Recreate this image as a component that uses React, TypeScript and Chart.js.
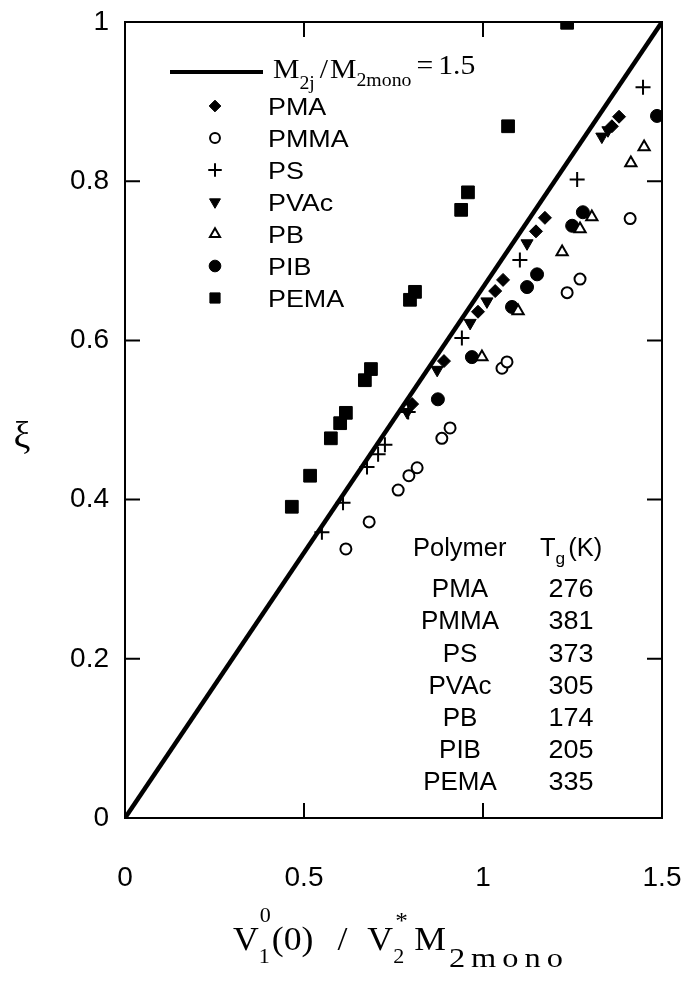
import React, { useEffect, useRef } from 'react';
import { Chart, registerables } from 'chart.js';
import { drawPoint } from 'chart.js/helpers';

Chart.register(...registerables);

// ---- data ----
const pmaX = [0.802, 0.891, 0.986, 1.034, 1.056, 1.148, 1.173, 1.36, 1.38];
const pmaY = [0.52, 0.574, 0.636, 0.662, 0.676, 0.737, 0.754, 0.869, 0.881];

const pmmaX = [0.617, 0.682, 0.763, 0.793, 0.816, 0.885, 0.908, 1.053, 1.067, 1.235, 1.271, 1.411];
const pmmaY = [0.338, 0.372, 0.412, 0.43, 0.44, 0.477, 0.49, 0.565, 0.573, 0.66, 0.677, 0.753];

const psX = [0.55, 0.609, 0.676, 0.707, 0.726, 0.791, 0.941, 1.103, 1.263, 1.447];
const psY = [0.359, 0.396, 0.441, 0.457, 0.469, 0.51, 0.603, 0.701, 0.802, 0.918];

const pvacX = [0.788, 0.872, 0.964, 1.011, 1.123, 1.332, 1.349];
const pvacY = [0.51, 0.563, 0.622, 0.649, 0.722, 0.856, 0.864];

const pbX = [0.997, 1.098, 1.221, 1.271, 1.304, 1.413, 1.45];
const pbY = [0.579, 0.637, 0.711, 0.74, 0.755, 0.823, 0.843];

const pibX = [0.874, 0.969, 1.081, 1.123, 1.151, 1.249, 1.279, 1.486];
const pibY = [0.526, 0.579, 0.642, 0.667, 0.683, 0.744, 0.761, 0.882];

const pemaX = [0.466, 0.517, 0.575, 0.601, 0.617, 0.67, 0.687, 0.796, 0.81, 0.939, 0.958, 1.07, 1.235];
const pemaY = [0.391, 0.43, 0.477, 0.496, 0.509, 0.55, 0.564, 0.651, 0.661, 0.764, 0.786, 0.869, 0.999];

const lineX = [0, 1.5];
const lineY = [0, 1];

const xTicks = [0, 0.5, 1, 1.5];
const yTicks = [0, 0.2, 0.4, 0.6, 0.8, 1];
const xTickLabels = ['0', '0.5', '1', '1.5'];
const yTickLabels = ['0', '0.2', '0.4', '0.6', '0.8', '1'];

const seriesNames = ['PMA', 'PMMA', 'PS', 'PVAc', 'PB', 'PIB', 'PEMA'];
const tableNames = ['PMA', 'PMMA', 'PS', 'PVAc', 'PB', 'PIB', 'PEMA'];
const tableTg = ['276', '381', '373', '305', '174', '205', '335'];

// ---- styles ----
const SANS = '"Liberation Sans", Arial, sans-serif';
const SERIF = '"Liberation Serif", "Times New Roman", serif';

const markerStyles: any[] = [
  { pointStyle: 'rectRot', radius: 6.5, rotation: 0, fill: '#000', borderWidth: 1 },
  { pointStyle: 'circle', radius: 5.5, rotation: 0, fill: '#fff', borderWidth: 2 },
  { pointStyle: 'cross', radius: 7.5, rotation: 0, fill: '#000', borderWidth: 2 },
  { pointStyle: 'triangle', radius: 7, rotation: 180, fill: '#000', borderWidth: 1 },
  { pointStyle: 'triangle', radius: 6.5, rotation: 0, fill: '#fff', borderWidth: 2 },
  { pointStyle: 'circle', radius: 6.5, rotation: 0, fill: '#000', borderWidth: 1 },
  { pointStyle: 'rect', radius: 9, rotation: 0, fill: '#000', borderWidth: 1 },
];

const seriesX = [pmaX, pmmaX, psX, pvacX, pbX, pibX, pemaX];
const seriesY = [pmaY, pmmaY, psY, pvacY, pbY, pibY, pemaY];

function run(ctx: CanvasRenderingContext2D, s: string, x: number, y: number, size: number, fam: string, sx = 1, spacing = '0px') {
  ctx.save();
  ctx.font = `${size}px ${fam}`;
  (ctx as any).letterSpacing = spacing;
  ctx.textAlign = 'left';
  ctx.textBaseline = 'alphabetic';
  const w = ctx.measureText(s).width;
  ctx.translate(x, y);
  ctx.scale(sx, 1);
  ctx.fillText(s, 0, 0);
  ctx.restore();
  return x + w * sx;
}

function centered(ctx: CanvasRenderingContext2D, s: string, cx: number, y: number, size: number, fam: string, sx = 1) {
  ctx.save();
  ctx.font = `${size}px ${fam}`;
  ctx.textAlign = 'center';
  ctx.textBaseline = 'alphabetic';
  ctx.translate(cx, y);
  ctx.scale(sx, 1);
  ctx.fillText(s, 0, 0);
  ctx.restore();
}

const decorPlugin = {
  id: 'decor',
  afterDraw(chart: any) {
    const { ctx, chartArea: a, scales } = chart;
    const xs = scales.x;
    const ys = scales.y;
    ctx.save();
    ctx.fillStyle = '#000';
    ctx.strokeStyle = '#000';
    // frame
    ctx.lineWidth = 2;
    ctx.strokeRect(a.left, a.top, a.right - a.left, a.bottom - a.top);
    // inward ticks on all sides
    const T = 15;
    ctx.beginPath();
    xTicks.forEach((v) => {
      if (v <= xs.min || v >= xs.max) return;
      const px = xs.getPixelForValue(v);
      ctx.moveTo(px, a.bottom); ctx.lineTo(px, a.bottom - T);
      ctx.moveTo(px, a.top); ctx.lineTo(px, a.top + T);
    });
    yTicks.forEach((v) => {
      if (v <= ys.min || v >= ys.max) return;
      const py = ys.getPixelForValue(v);
      ctx.moveTo(a.left, py); ctx.lineTo(a.left + T, py);
      ctx.moveTo(a.right, py); ctx.lineTo(a.right - T, py);
    });
    ctx.stroke();

    // legend: line sample + rich text
    ctx.lineWidth = 4;
    ctx.beginPath();
    ctx.moveTo(170, 72); ctx.lineTo(263, 72);
    ctx.stroke();
    let x = run(ctx, 'M', 273, 78, 27, SERIF, 1.1);
    x = run(ctx, '2j', x, 89, 18, SERIF, 1.1);
    x = run(ctx, '/', x + 5, 78, 27, SERIF, 1.1);
    x = run(ctx, 'M', x + 2, 78, 27, SERIF, 1.1);
    x = run(ctx, '2mono', x, 86, 18, SERIF, 1.1);
    x = run(ctx, '=', x + 5, 74, 27, SERIF, 1.1);
    run(ctx, '1.5', x + 5, 74, 27, SERIF, 1.1);

    const rowY = [106, 138, 170, 202, 234, 266, 298];
    seriesNames.forEach((name, i) => {
      const m = markerStyles[i];
      ctx.save();
      ctx.fillStyle = m.fill;
      ctx.strokeStyle = '#000';
      ctx.lineWidth = m.borderWidth;
      const r = i === 6 ? m.radius * 0.8 : m.radius * 0.9;
      drawPoint(ctx, { pointStyle: m.pointStyle, rotation: m.rotation, radius: r, borderWidth: m.borderWidth }, 215, rowY[i]);
      ctx.restore();
      run(ctx, name, 268, rowY[i] + 8.5, 24, SANS, 1.12);
    });

    // table of glass-transition temperatures
    run(ctx, 'Polymer', 413, 556, 25, SANS, 1.02);
    let tx = run(ctx, 'T', 540, 556, 25, SANS, 1.02);
    tx = run(ctx, 'g', tx, 564, 17, SANS, 1.02);
    run(ctx, '(K)', tx + 3, 556, 25, SANS, 1.02);
    const baseY = [597, 629, 662, 694, 726, 758, 790];
    tableNames.forEach((n, i) => {
      centered(ctx, n, 460, baseY[i], 25, SANS, 1.04);
      centered(ctx, tableTg[i], 571, baseY[i], 25, SANS, 1.08);
    });

    // y title
    centered(ctx, 'ξ', 22, 448, 38, SERIF, 1);

    // x title: V1^0(0) / V2^* M2mono
    let t = run(ctx, 'V', 233, 950, 34, SERIF, 1.05);
    run(ctx, '0', t + 1, 922, 21, SERIF, 1.05);
    t = run(ctx, '1', t, 963, 21, SERIF, 1.05);
    t = run(ctx, '(0)', t + 2, 950, 34, SERIF, 1.05);
    t = run(ctx, '/', t + 24, 950, 34, SERIF, 1.05);
    t = run(ctx, 'V', t + 20, 950, 34, SERIF, 1.05);
    run(ctx, '*', t + 2, 928, 24, SERIF, 1.05);
    t = run(ctx, '2', t, 963, 21, SERIF, 1.05);
    t = run(ctx, 'M', t + 10, 950, 34, SERIF, 1.05);
    run(ctx, '2mono', t + 3, 967, 27, SERIF, 1.2, '5px');

    ctx.restore();
  },
};

export default function App() {
  const ref = useRef<HTMLCanvasElement | null>(null);

  useEffect(() => {
    document.body.style.margin = '0';
    const canvas = ref.current;
    if (!canvas) return;

    const scatterSets = seriesNames.map((name, i) => {
      const m = markerStyles[i];
      return {
        type: 'scatter' as const,
        label: name,
        data: seriesX[i].map((xv, j) => ({ x: xv, y: seriesY[i][j] })),
        pointStyle: m.pointStyle,
        pointRotation: m.rotation,
        pointRadius: m.radius,
        pointHoverRadius: m.radius,
        pointBorderWidth: m.borderWidth,
        pointBackgroundColor: m.fill,
        pointBorderColor: '#000',
        backgroundColor: m.fill,
        borderColor: '#000',
        order: 2,
      };
    });

    const chart = new Chart(canvas, {
      type: 'scatter',
      data: {
        datasets: [
          {
            type: 'line' as const,
            label: 'M2j/M2mono = 1.5',
            data: lineX.map((xv, j) => ({ x: xv, y: lineY[j] })),
            borderColor: '#000',
            borderWidth: 4.5,
            pointRadius: 0,
            fill: false,
            order: 1,
          } as any,
          ...scatterSets,
        ],
      },
      options: {
        animation: false,
        responsive: false,
        maintainAspectRatio: false,
        layout: { padding: { top: 22, right: 24, left: 0, bottom: 0 } },
        plugins: { legend: { display: false }, tooltip: { enabled: false }, title: { display: false } },
        scales: {
          x: {
            type: 'linear',
            min: 0,
            max: 1.5,
            afterFit: (s: any) => { s.height = 165; s.paddingLeft = 0; s.paddingRight = 0; },
            afterBuildTicks: (s: any) => { s.ticks = xTicks.map((v) => ({ value: v })); },
            grid: { display: false, drawTicks: false },
            border: { display: false },
            ticks: {
              padding: 43,
              color: '#000',
              font: { family: SANS, size: 28 },
              maxRotation: 0,
              callback: (v: any) => xTickLabels[xTicks.indexOf(Number(v))] ?? String(v),
            },
          },
          y: {
            type: 'linear',
            min: 0,
            max: 1,
            afterFit: (s: any) => { s.width = 125; s.paddingTop = 0; s.paddingBottom = 0; },
            afterBuildTicks: (s: any) => { s.ticks = yTicks.map((v) => ({ value: v })); },
            grid: { display: false, drawTicks: false },
            border: { display: false },
            ticks: {
              padding: 16,
              color: '#000',
              font: { family: SANS, size: 28 },
              callback: (v: any) => yTickLabels[yTicks.indexOf(Number(v))] ?? String(v),
            },
          },
        },
      },
      plugins: [decorPlugin],
    });

    return () => chart.destroy();
  }, []);

  return (
    <div style={{ width: 686, height: 983, background: '#fff' }}>
      <canvas ref={ref} width={686} height={983} style={{ display: 'block', width: 686, height: 983 }} />
    </div>
  );
}
